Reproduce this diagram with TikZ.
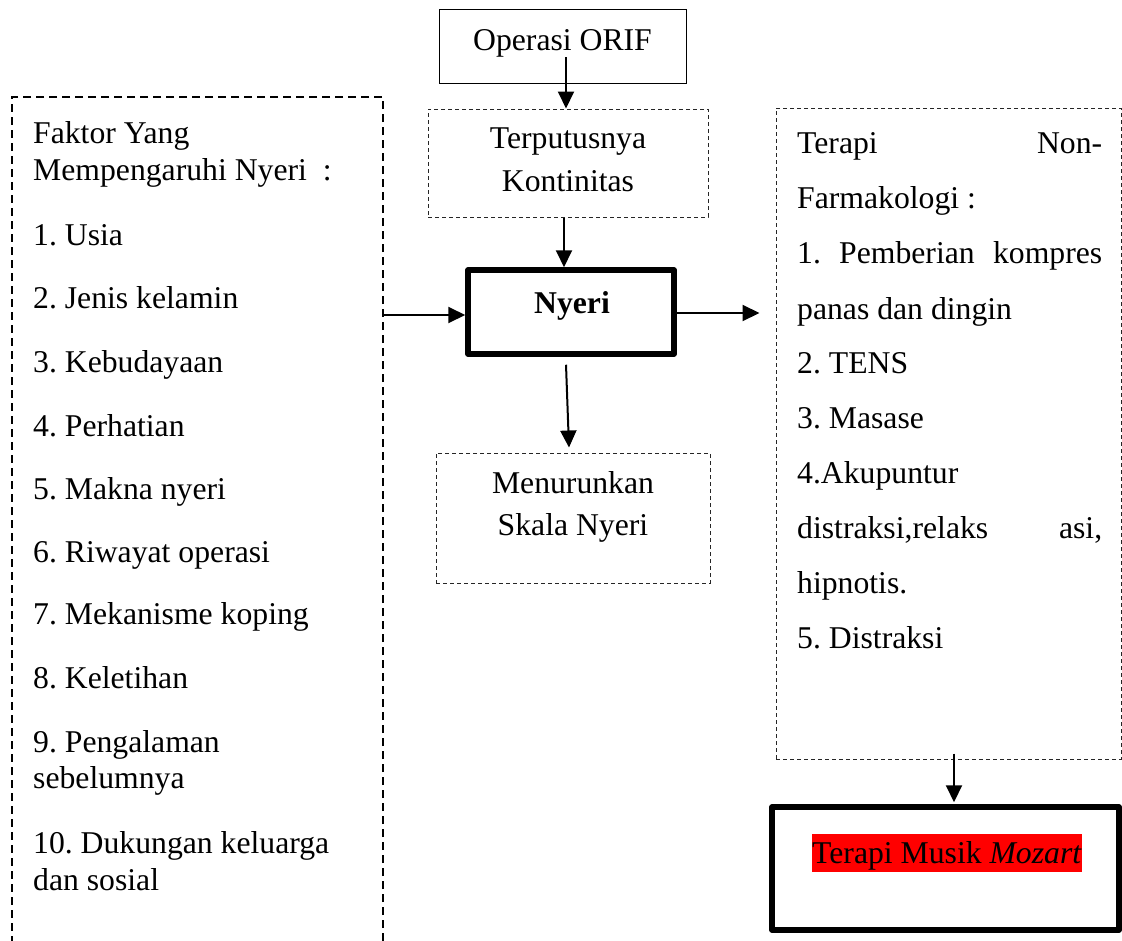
\documentclass[tikz,border=0pt]{standalone}
\usepackage{fontspec}
\setmainfont{Liberation Serif}
\usetikzlibrary{arrows.meta}
\newcommand\bodyfont{\fontsize{31.7}{38}\selectfont}
\frenchspacing
\begin{document}
\frenchspacing
\begin{tikzpicture}[x=1pt,y=-1pt,
  txt/.style={anchor=base west, inner sep=0pt, font=\bodyfont\frenchspacing},
  ctxt/.style={anchor=base, inner sep=0pt, font=\bodyfont\frenchspacing},
  solidbox/.style={draw, line width=1pt, inner sep=0pt},
  thinbox/.style={draw=black!85, dash pattern=on 4pt off 3pt, line width=1pt, inner sep=0pt},
  leftbox/.style={draw, dash pattern=on 8pt off 5pt, line width=1.5pt, inner sep=0pt},
  thickbox/.style={draw, line width=5.5pt, line join=round, inner sep=0pt},
  arr/.style={-{Triangle[length=17pt,width=16pt]}, line width=2pt},
]
\useasboundingbox (0,0) rectangle (1122,940);
\begin{scope}
\clip (0,0) rectangle (1122,940);

% boxes
\node[solidbox, minimum width=247pt, minimum height=74pt] (orif) at (562.5,46) {};
\node[thinbox, minimum width=280pt, minimum height=108pt] (terp) at (568,163) {};
\node[thickbox, minimum width=206pt, minimum height=84pt] (nyeri) at (571,312) {};
\node[thinbox, minimum width=274pt, minimum height=130pt] (menur) at (573,518) {};
\node[leftbox, minimum width=371pt, minimum height=863pt] (left) at (197.5,528.5) {};
\node[thinbox, minimum width=345pt, minimum height=651pt] (right) at (948.5,433.5) {};
\node[thickbox, minimum width=347pt, minimum height=123pt] (mozart) at (945.5,868.5) {};

% centre texts
\node[ctxt] (torif) at (562.5,50) {Operasi ORIF};
\node[ctxt] (tterp1) at (568,148) {Terputusnya};
\node[ctxt] (tterp2) at (568,191) {Kontinitas};
\node[ctxt, font=\bodyfont\bfseries] (tnyeri) at (572,313) {Nyeri};
\node[ctxt] (tmen1) at (573,493) {Menurunkan};
\node[ctxt] (tmen2) at (573,535) {Skala Nyeri};

% left box texts
\node[txt] (l1) at (33,143) {Faktor Yang};
\node[txt] (l2) at (33,180) {Mempengaruhi Nyeri\ \ :};
\node[txt] (l3) at (33,245) {1. Usia};
\node[txt] (l4) at (33,308) {2. Jenis kelamin};
\node[txt] (l5) at (33,372) {3. Kebudayaan};
\node[txt] (l6) at (33,436) {4. Perhatian};
\node[txt] (l7) at (33,499) {5. Makna nyeri};
\node[txt] (l8) at (33,562) {6. Riwayat operasi};
\node[txt] (l9) at (33,624) {7. Mekanisme koping};
\node[txt] (l10) at (33,688) {8. Keletihan};
\node[txt] (l11) at (33,752) {9. Pengalaman};
\node[txt] (l12) at (33,788) {sebelumnya};
\node[txt] (l13) at (33,853) {10. Dukungan keluarga};
\node[txt] (l14) at (33,890) {dan sosial};

% right box texts
\node[txt] (r1) at (797,153) {\hbox to 305pt{Terapi\hfill Non-}};
\node[txt] (r2) at (797,208) {Farmakologi :};
\node[txt] (r3) at (797,263) {\hbox to 305pt{1.\hfill Pemberian\hfill kompres}};
\node[txt] (r4) at (797,319) {panas dan dingin};
\node[txt] (r5) at (797,373) {2. TENS};
\node[txt] (r6) at (797,428) {3. Masase};
\node[txt] (r7) at (797,483) {4.Akupuntur};
\node[txt] (r8) at (797,538) {\hbox to 305pt{distraksi,relaks\hfill asi,}};
\node[txt] (r9) at (797,593) {hipnotis.};
\node[txt] (r10) at (797,648) {5. Distraksi};

% Mozart label with red highlight
\node[txt, fill=red, inner xsep=0.5pt, text height=29pt, text depth=9pt] (tmoz) at (811.5,863) {Terapi Musik \textit{Mozart}};

% connectors
\draw[arr] ([xshift=3.5pt,yshift=-11pt]orif.center) -- ([xshift=-2pt]terp.north);
\draw[arr] ([xshift=-4pt]terp.south) -- ([xshift=-7pt]nyeri.north);
\draw[arr] ([yshift=-3pt]left.east |- nyeri.west) -- ([yshift=-3pt]nyeri.west);
\path (right.west |- nyeri.east) ++(-16,1) coordinate (rin);
\draw[arr] ([yshift=-1pt]nyeri.east) -- (rin);
\draw[arr] ([xshift=-5pt,yshift=-8pt]nyeri.south) -- ([xshift=-4pt,yshift=5pt]menur.north);
\draw[arr] ([xshift=5.5pt,yshift=6pt]right.south) -- ([xshift=8.5pt,yshift=2pt]mozart.north);
\end{scope}
\end{tikzpicture}
\end{document}
